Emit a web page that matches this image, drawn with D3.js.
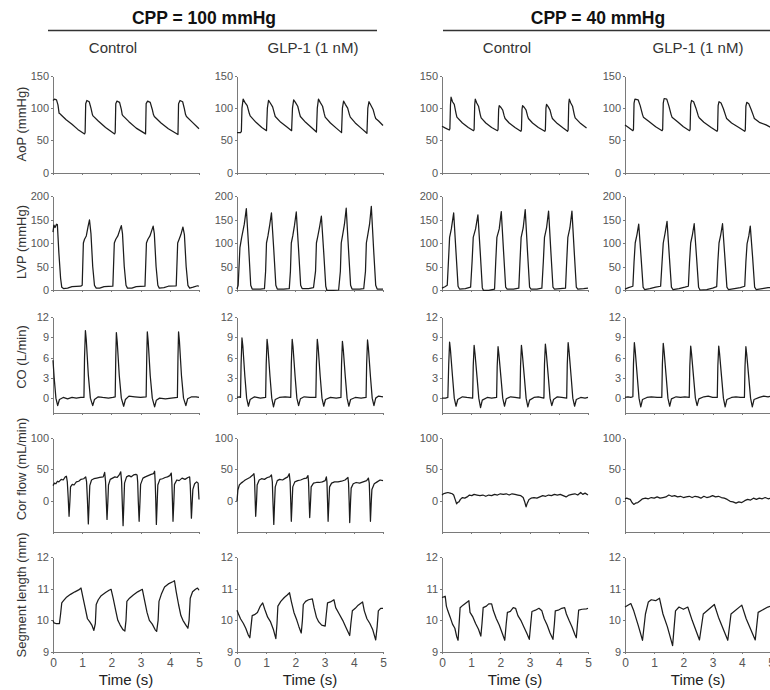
<!DOCTYPE html>
<html>
<head>
<meta charset="utf-8">
<script src="https://cdn.jsdelivr.net/npm/d3@7"></script>
<style>
    body { margin: 0; background: #fff; }
    svg { display: block; font-family: Arial, "Liberation Sans", sans-serif; }
    .axis path, .axis line { stroke: #7a7a7a; shape-rendering: crispEdges; }
    .axis text { fill: #555; font-size: 11px; font-family: Arial, "Liberation Sans", sans-serif; }
    .x-axis text { font-size: 12px; }
    .trace { fill: none; stroke: #1c1c1c; stroke-width: 1.25; stroke-linejoin: round; }
    .row-label { font-size: 13px; fill: #333; }
    .group-title { font-size: 17.5px; font-weight: bold; fill: #111; }
    .col-title { font-size: 15px; fill: #333; }
    .time-label { font-size: 15px; fill: #222; }
</style>
</head>
<body>
<svg id="chart" width="770" height="690"></svg>
<script>
/**
 * Data: time (s), value pairs.
 */
const groupTitles = ['CPP = 100 mmHg', 'CPP = 40 mmHg'];
const colTitles = ['Control', 'GLP-1 (1 nM)', 'Control', 'GLP-1 (1 nM)'];
const rowLabels = ['AoP (mmHg)', 'LVP (mmHg)', 'CO (L/min)', 'Cor flow (mL/min)', 'Segment length (mm)'];
const rowDomains = [[0, 150], [0, 200], [-2.2, 12], [-50, 100], [9, 12]];
const rowTicks = [[0, 50, 100, 150], [0, 50, 100, 150, 200], [0, 3, 6, 9, 12], [0, 50, 100], [9, 10, 11, 12]];
const timeTicks = [0, 1, 2, 3, 4, 5];
const timeLabel = 'Time (s)';

// Aortic pressure
const aop100Ctrl = [[0, 112], [0.05, 114], [0.12, 113], [0.17, 105], [0.21, 92], [0.25, 91], [0.29, 89], [0.45, 82], [0.65, 75], [0.85, 67], [1.08, 60],
    [1.1, 62], [1.12, 107], [1.16, 112], [1.24, 110], [1.3, 100], [1.35, 90], [1.37, 88], [1.55, 80], [1.8, 70], [2.11, 60],
    [2.13, 62], [2.15, 107], [2.19, 111], [2.28, 109], [2.34, 98], [2.37, 90], [2.4, 88], [2.6, 79], [2.85, 69], [3.17, 60],
    [3.19, 107], [3.24, 111], [3.33, 109], [3.4, 98], [3.44, 90], [3.47, 87], [3.7, 77], [3.95, 68], [4.28, 59],
    [4.3, 107], [4.35, 112], [4.44, 110], [4.5, 99], [4.54, 90], [4.57, 87], [4.75, 79], [5.0, 68]];
const aop100Glp = [[0, 62], [0.12, 62], [0.15, 64], [0.17, 100], [0.21, 114], [0.27, 109], [0.35, 104], [0.42, 92], [0.45, 88], [0.65, 78], [0.85, 70], [1.01, 65],
    [1.04, 100], [1.08, 112], [1.14, 108], [1.22, 102], [1.28, 92], [1.31, 87], [1.5, 78], [1.7, 71], [1.87, 65],
    [1.9, 100], [1.94, 113], [2.0, 109], [2.08, 103], [2.14, 92], [2.17, 87], [2.35, 78], [2.55, 70], [2.72, 63],
    [2.75, 100], [2.79, 114], [2.85, 109], [2.93, 103], [2.99, 91], [3.02, 86], [3.2, 77], [3.4, 69], [3.58, 62],
    [3.61, 100], [3.65, 111], [3.71, 106], [3.79, 100], [3.85, 90], [3.88, 86], [4.05, 77], [4.25, 69], [4.45, 61],
    [4.48, 100], [4.52, 110], [4.58, 105], [4.66, 98], [4.72, 88], [4.75, 84], [4.85, 80], [5.0, 73]];
const aop40Ctrl = [[0, 72], [0.12, 69], [0.25, 66], [0.27, 68], [0.29, 105], [0.31, 117], [0.36, 110], [0.42, 106], [0.48, 92], [0.51, 86], [0.7, 77], [0.9, 70], [1.08, 65],
    [1.1, 67], [1.12, 105], [1.14, 114], [1.19, 108], [1.25, 103], [1.31, 90], [1.34, 85], [1.5, 77], [1.7, 70], [1.9, 65],
    [1.92, 67], [1.94, 98], [1.96, 104], [2.02, 101], [2.08, 97], [2.13, 88], [2.16, 84], [2.3, 77], [2.5, 70], [2.7, 64],
    [2.72, 66], [2.74, 98], [2.76, 104], [2.82, 101], [2.88, 97], [2.93, 88], [2.96, 84], [3.1, 77], [3.3, 70], [3.52, 64],
    [3.54, 66], [3.56, 100], [3.58, 106], [3.64, 102], [3.7, 97], [3.75, 88], [3.78, 84], [3.95, 76], [4.15, 69], [4.3, 64],
    [4.32, 66], [4.34, 106], [4.36, 114], [4.41, 108], [4.47, 103], [4.53, 90], [4.56, 85], [4.75, 76], [4.95, 69]];
const aop40Glp = [[0, 74], [0.12, 70], [0.27, 65], [0.29, 67], [0.31, 108], [0.34, 114], [0.45, 113], [0.52, 104], [0.6, 90], [0.63, 86], [0.8, 80], [1.05, 71], [1.27, 65],
    [1.29, 67], [1.31, 108], [1.34, 115], [1.43, 114], [1.5, 104], [1.58, 90], [1.61, 86], [1.8, 79], [2.0, 71], [2.21, 65],
    [2.23, 67], [2.25, 106], [2.28, 112], [2.35, 110], [2.43, 100], [2.51, 88], [2.54, 85], [2.7, 78], [2.95, 70], [3.15, 64],
    [3.17, 66], [3.19, 104], [3.22, 110], [3.29, 108], [3.37, 99], [3.45, 88], [3.48, 84], [3.65, 77], [3.9, 70], [4.1, 64],
    [4.12, 66], [4.14, 103], [4.17, 109], [4.24, 107], [4.32, 98], [4.4, 88], [4.43, 84], [4.6, 78], [4.83, 74], [5.0, 70]];

// Left ventricular pressure
const lvp100Ctrl = [[0, 123], [0.03, 138], [0.07, 133], [0.12, 140], [0.15, 139], [0.2, 80], [0.26, 25], [0.3, 6], [0.36, 3], [0.5, 4], [0.65, 7], [0.95, 8],
    [1.0, 10], [1.04, 100], [1.08, 108], [1.14, 115], [1.2, 135], [1.25, 149], [1.3, 120], [1.36, 50], [1.42, 10], [1.48, 4], [1.6, 4], [1.75, 7], [2.05, 8],
    [2.1, 100], [2.15, 108], [2.22, 115], [2.3, 130], [2.34, 137], [2.38, 120], [2.44, 50], [2.5, 10], [2.55, 4], [2.7, 4], [2.85, 7], [3.15, 8],
    [3.2, 100], [3.25, 108], [3.32, 115], [3.4, 130], [3.43, 136], [3.47, 120], [3.53, 50], [3.59, 10], [3.64, 4], [3.8, 5], [3.95, 8], [4.22, 9],
    [4.27, 100], [4.32, 108], [4.38, 118], [4.45, 134], [4.5, 118], [4.56, 50], [4.62, 10], [4.68, 4], [4.8, 6], [4.95, 9], [5.0, 8]];
const lvp100Glp = [[0, 2], [0.04, 10], [0.1, 90], [0.16, 112], [0.25, 140], [0.32, 173], [0.4, 90], [0.47, 10], [0.52, 2], [0.8, 2], [0.94, 3],
    [0.98, 40], [1.01, 100], [1.06, 115], [1.12, 138], [1.18, 164], [1.26, 85], [1.33, 10], [1.38, 2], [1.6, 2], [1.79, 3],
    [1.83, 40], [1.86, 100], [1.91, 115], [1.97, 138], [2.03, 166], [2.11, 85], [2.18, 10], [2.23, 3], [2.45, 3], [2.62, 5],
    [2.69, 40], [2.72, 100], [2.77, 115], [2.83, 135], [2.89, 157], [2.97, 80], [3.04, 8], [3.08, -1], [3.3, -1], [3.48, 0],
    [3.54, 40], [3.57, 100], [3.62, 118], [3.68, 140], [3.74, 174], [3.82, 85], [3.89, 10], [3.94, 2], [4.2, 2], [4.34, 3],
    [4.4, 40], [4.43, 100], [4.48, 118], [4.54, 140], [4.6, 178], [4.68, 85], [4.75, 10], [4.8, 2], [5.0, 2]];
const lvp40Ctrl = [[0, 4], [0.1, 7], [0.18, 10], [0.22, 60], [0.26, 112], [0.32, 130], [0.4, 164], [0.48, 80], [0.55, 8], [0.6, 2], [0.8, 3], [0.98, 6],
    [1.03, 60], [1.07, 112], [1.15, 130], [1.23, 160], [1.31, 80], [1.38, 5], [1.42, -1], [1.6, -1], [1.8, 2],
    [1.84, 60], [1.88, 112], [1.96, 130], [2.03, 167], [2.11, 80], [2.18, 6], [2.23, 2], [2.45, 2], [2.63, 4],
    [2.67, 60], [2.71, 112], [2.78, 132], [2.85, 171], [2.93, 80], [3.0, 6], [3.05, 2], [3.25, 2], [3.42, 4],
    [3.47, 60], [3.51, 112], [3.58, 132], [3.65, 168], [3.73, 80], [3.8, 6], [3.85, 2], [4.05, 3], [4.23, 4],
    [4.27, 60], [4.31, 112], [4.38, 132], [4.45, 168], [4.53, 80], [4.6, 6], [4.65, 2], [4.85, 3], [5.0, 4]];
const lvp40Glp = [[0, 2], [0.12, 5], [0.27, 8], [0.31, 60], [0.35, 100], [0.41, 118], [0.47, 140], [0.55, 70], [0.62, 6], [0.67, 1], [0.85, 3], [1.05, 6], [1.22, 8],
    [1.27, 60], [1.31, 100], [1.37, 120], [1.44, 146], [1.52, 70], [1.59, 6], [1.64, 1], [1.85, 3], [2.05, 6], [2.17, 8],
    [2.21, 60], [2.25, 100], [2.31, 118], [2.37, 141], [2.45, 70], [2.52, 6], [2.57, 0], [2.8, 1], [3.0, 4], [3.14, 7],
    [3.18, 60], [3.22, 100], [3.28, 118], [3.34, 141], [3.42, 70], [3.49, 6], [3.54, 1], [3.75, 3], [3.95, 5], [4.1, 8],
    [4.14, 60], [4.18, 98], [4.24, 115], [4.29, 136], [4.37, 70], [4.44, 6], [4.49, 1], [4.7, 3], [4.9, 5], [5.0, 5]];

// Cardiac output
const co100Ctrl = [[0, 5.6], [0.04, 3], [0.1, 0], [0.16, -1.1], [0.22, -0.2], [0.35, 0.1], [0.5, -0.1], [0.65, 0.1], [0.8, 0], [0.95, 0.1], [1.06, 0.1],
    [1.08, 6], [1.11, 10], [1.14, 8.6], [1.21, 3.4], [1.28, 0], [1.36, -1.1], [1.42, -0.2], [1.55, 0.2], [1.7, 0.1], [1.9, 0], [2.05, 0.1], [2.13, 0.2],
    [2.15, 6], [2.17, 9.7], [2.2, 8.3], [2.27, 3.3], [2.34, 0], [2.42, -1.2], [2.48, -0.2], [2.6, 0.3], [2.8, 0.2], [3.0, 0.1], [3.19, 0.2],
    [3.21, 6], [3.23, 9.8], [3.26, 8.4], [3.33, 3.3], [3.4, 0], [3.48, -1.3], [3.54, -0.3], [3.65, 0], [3.85, -0.1], [4.05, 0], [4.26, 0.1],
    [4.28, 6], [4.3, 9.8], [4.33, 8.4], [4.4, 3.3], [4.47, 0], [4.55, -1.1], [4.61, -0.1], [4.75, 0.2], [4.9, 0.2], [5.0, 0.1]];
const co100Glp = [[0, 0.1], [0.08, 0.2], [0.12, 0.1], [0.14, 5], [0.17, 8.9], [0.2, 7.7], [0.27, 3.2], [0.33, 0], [0.39, -1.2], [0.45, -0.2], [0.6, 0.2], [0.8, 0], [0.98, 0.1],
    [1.0, 5], [1.03, 8.7], [1.06, 7.5], [1.13, 3.2], [1.19, 0], [1.25, -1.3], [1.31, -0.2], [1.45, 0.1], [1.65, 0.2], [1.84, 0.1],
    [1.86, 5], [1.89, 8.7], [1.92, 7.5], [1.99, 3.2], [2.05, 0], [2.11, -1.1], [2.17, -0.1], [2.3, 0.2], [2.5, 0.1], [2.7, 0.1],
    [2.72, 5], [2.75, 8.7], [2.78, 7.5], [2.85, 3.2], [2.91, 0], [2.97, -1.2], [3.03, -0.2], [3.2, 0.1], [3.4, 0], [3.56, 0.1],
    [3.58, 5], [3.61, 8.4], [3.64, 7.2], [3.71, 3.1], [3.77, 0], [3.83, -1.2], [3.89, -0.2], [4.05, 0.1], [4.25, 0], [4.42, 0.1],
    [4.44, 5], [4.47, 8.6], [4.5, 7.4], [4.57, 3.2], [4.63, 0], [4.69, -1.1], [4.75, 0], [4.85, 0.3], [5.0, 0.2]];
const co40Ctrl = [[0, 0], [0.12, 0], [0.2, 0.1], [0.23, 5], [0.26, 8.3], [0.29, 7.1], [0.36, 3.2], [0.42, 0], [0.48, -1.2], [0.54, -0.2], [0.7, 0.2], [0.85, 0.1], [1.05, 0],
    [1.07, 4.8], [1.1, 7.8], [1.13, 6.6], [1.2, 3.1], [1.26, 0], [1.32, -1.4], [1.38, -0.3], [1.55, 0.1], [1.7, 0], [1.87, 0.1],
    [1.89, 4.7], [1.92, 7.6], [1.95, 6.4], [2.02, 3], [2.08, 0], [2.14, -1.2], [2.2, -0.1], [2.35, 0.2], [2.5, 0.1], [2.67, 0],
    [2.69, 4.8], [2.72, 7.8], [2.75, 6.6], [2.82, 3.1], [2.88, 0], [2.94, -1.3], [3.0, -0.3], [3.15, 0.1], [3.3, 0.2], [3.49, 0],
    [3.51, 5], [3.54, 8.0], [3.57, 6.8], [3.64, 3.2], [3.7, 0], [3.76, -1.1], [3.82, -0.2], [3.95, 0.2], [4.1, 0.1], [4.27, 0],
    [4.29, 5], [4.32, 8.2], [4.35, 7], [4.42, 3.3], [4.48, 0], [4.54, -1.2], [4.6, -0.2], [4.75, 0.1], [4.9, 0], [5.0, 0.1]];
const co40Glp = [[0, 0.1], [0.1, 0.2], [0.2, 0.1], [0.27, 0.2], [0.29, 5], [0.32, 8.2], [0.35, 7], [0.42, 3.2], [0.48, 0], [0.54, -1.3], [0.6, -0.2], [0.75, 0.1], [0.9, 0.2], [1.1, 0.1], [1.26, 0.1],
    [1.28, 5], [1.31, 8.1], [1.34, 6.9], [1.41, 3.2], [1.47, 0], [1.53, -1.2], [1.59, -0.1], [1.75, 0.2], [1.9, 0.1], [2.05, 0.2], [2.2, 0.1],
    [2.22, 4.8], [2.25, 7.7], [2.28, 6.5], [2.35, 3], [2.41, 0], [2.47, -1.1], [2.53, -0.1], [2.7, 0.2], [2.85, 0.3], [3.0, 0.1], [3.16, 0.1],
    [3.18, 4.8], [3.21, 7.7], [3.24, 6.5], [3.31, 3], [3.37, 0], [3.43, -1.3], [3.49, -0.2], [3.65, 0.1], [3.8, 0.2], [3.95, 0.1], [4.09, 0.1],
    [4.11, 4.7], [4.14, 7.6], [4.17, 6.4], [4.24, 3], [4.3, 0], [4.36, -1.3], [4.42, -0.2], [4.6, 0.1], [4.75, 0.3], [4.9, 0.2], [5.0, 0.3]];

// Coronary flow
const cor100Ctrl = [[0, 24], [0.05, 28], [0.1, 27], [0.15, 31], [0.2, 30], [0.28, 34], [0.35, 33], [0.42, 38], [0.46, 39], [0.49, 30], [0.52, 5], [0.55, -25], [0.58, 0], [0.6, 22],
    [0.66, 26], [0.72, 25], [0.8, 30], [0.88, 31], [0.96, 34], [1.05, 35], [1.12, 38], [1.15, 30], [1.18, 0], [1.21, -37], [1.24, 0], [1.26, 24],
    [1.32, 33], [1.4, 35], [1.5, 36], [1.6, 37], [1.72, 38], [1.77, 45], [1.8, 30], [1.82, 5], [1.85, -30], [1.88, 0], [1.9, 25],
    [1.96, 34], [2.04, 36], [2.12, 38], [2.2, 37], [2.28, 42], [2.32, 46], [2.35, 30], [2.37, 0], [2.4, -40], [2.43, 0], [2.45, 28],
    [2.52, 38], [2.6, 40], [2.68, 38], [2.76, 41], [2.84, 42], [2.88, 41], [2.9, 30], [2.92, 0], [2.95, -33], [2.98, 0], [3.0, 26],
    [3.08, 36], [3.16, 38], [3.26, 40], [3.36, 42], [3.44, 43], [3.48, 47], [3.5, 30], [3.52, 0], [3.54, -38], [3.57, 0], [3.59, 25],
    [3.66, 34], [3.75, 35], [3.84, 37], [3.92, 38], [4.0, 40], [4.05, 44], [4.07, 30], [4.09, 0], [4.11, -33], [4.14, 0], [4.16, 26],
    [4.24, 33], [4.32, 32], [4.42, 36], [4.52, 34], [4.62, 37], [4.68, 38], [4.7, 25], [4.72, 0], [4.74, -28], [4.77, 0], [4.79, 18],
    [4.85, 27], [4.92, 30], [4.97, 28], [5.0, 2]];
const cor100Glp = [[0, -1], [0.03, 17], [0.08, 25], [0.14, 28], [0.2, 30], [0.28, 33], [0.36, 35], [0.44, 37], [0.52, 40], [0.58, 43], [0.6, 35], [0.62, 5], [0.64, -25], [0.67, 0], [0.69, 25],
    [0.76, 33], [0.84, 35], [0.94, 34], [1.04, 37], [1.12, 38], [1.18, 41], [1.21, 30], [1.23, 0], [1.26, -38], [1.29, 0], [1.31, 22],
    [1.38, 32], [1.46, 34], [1.56, 33], [1.66, 36], [1.74, 38], [1.79, 43], [1.82, 30], [1.84, 0], [1.86, -33], [1.89, 0], [1.91, 22],
    [1.98, 30], [2.08, 32], [2.18, 33], [2.28, 35], [2.38, 36], [2.43, 40], [2.45, 30], [2.47, 0], [2.49, -27], [2.52, 0], [2.54, 22],
    [2.62, 28], [2.72, 29], [2.82, 29], [2.92, 30], [3.02, 32], [3.06, 38], [3.08, 30], [3.1, 0], [3.12, -33], [3.15, 0], [3.17, 22],
    [3.24, 28], [3.34, 30], [3.46, 30], [3.58, 31], [3.7, 33], [3.8, 37], [3.82, 28], [3.84, 0], [3.86, -35], [3.89, 0], [3.91, 20],
    [3.98, 27], [4.08, 29], [4.2, 28], [4.32, 30], [4.44, 32], [4.5, 36], [4.53, 28], [4.55, 0], [4.57, -33], [4.6, 0], [4.62, 18],
    [4.7, 27], [4.8, 30], [4.9, 33], [5.0, 32]];
const cor40Ctrl = [[0, 9], [0.05, 11], [0.12, 12], [0.2, 13], [0.28, 12], [0.35, 11], [0.4, 9], [0.45, 2], [0.5, -5], [0.53, -3], [0.58, -2], [0.63, 2],
    [0.7, 5], [0.78, 4], [0.86, 6], [0.94, 9], [1.02, 8], [1.1, 10], [1.2, 9], [1.3, 8], [1.4, 9], [1.5, 7], [1.6, 9], [1.7, 8], [1.8, 10],
    [1.9, 9], [2.0, 11], [2.1, 10], [2.2, 11], [2.3, 9], [2.4, 11], [2.5, 10], [2.6, 9], [2.7, 8], [2.78, 5], [2.84, -3], [2.88, -10], [2.92, -4],
    [2.98, 2], [3.05, 4], [3.15, 5], [3.25, 4], [3.35, 6], [3.45, 8], [3.55, 7], [3.65, 9], [3.75, 8], [3.85, 10], [3.95, 9], [4.05, 10],
    [4.15, 8], [4.25, 6], [4.35, 9], [4.45, 10], [4.55, 11], [4.65, 9], [4.75, 13], [4.82, 10], [4.9, 12], [5.0, 9]];
const cor40Glp = [[0, 3], [0.06, 4], [0.12, 3], [0.18, 2], [0.24, -3], [0.3, -6], [0.36, -4], [0.44, -3], [0.52, 0], [0.6, 3], [0.7, 4], [0.8, 3],
    [0.9, 5], [1.0, 4], [1.1, 6], [1.2, 4], [1.3, 5], [1.4, 6], [1.5, 9], [1.6, 7], [1.7, 8], [1.8, 6], [1.9, 7], [2.0, 5], [2.1, 6], [2.2, 7],
    [2.3, 5], [2.4, 7], [2.5, 6], [2.6, 4], [2.7, 7], [2.8, 5], [2.9, 6], [3.0, 8], [3.1, 6], [3.2, 7], [3.3, 5], [3.4, 4], [3.5, 2], [3.6, -1],
    [3.7, -2], [3.8, -4], [3.9, -2], [4.0, -3], [4.1, 0], [4.2, 2], [4.3, 1], [4.4, 4], [4.5, 2], [4.6, 4], [4.7, 3], [4.8, 5], [4.9, 3], [5.0, 4]];

// Segment length
const sl100Ctrl = [[0, 10.0], [0.03, 9.92], [0.1, 9.9], [0.22, 9.9], [0.26, 10.2], [0.3, 10.55], [0.36, 10.62], [0.45, 10.72], [0.6, 10.82], [0.75, 10.9], [0.88, 10.96], [0.96, 11.02],
    [1.02, 10.75], [1.1, 10.4], [1.18, 10.05], [1.26, 9.95], [1.33, 9.85], [1.4, 9.68], [1.45, 9.9], [1.48, 10.5], [1.55, 10.65], [1.65, 10.78], [1.8, 10.88], [1.92, 10.95], [1.99, 10.98],
    [2.06, 10.7], [2.15, 10.3], [2.22, 10.0], [2.3, 9.85], [2.4, 9.7], [2.46, 9.66], [2.5, 10.0], [2.53, 10.6], [2.62, 10.7], [2.75, 10.8], [2.9, 10.9], [3.06, 10.98],
    [3.12, 10.7], [3.22, 10.25], [3.3, 10.0], [3.4, 9.88], [3.5, 9.7], [3.55, 9.65], [3.6, 10.0], [3.63, 10.6], [3.72, 10.85], [3.82, 11.05], [3.95, 11.15], [4.1, 11.22], [4.16, 11.25],
    [4.22, 10.9], [4.3, 10.5], [4.38, 10.15], [4.45, 10.0], [4.55, 9.85], [4.62, 9.75], [4.66, 10.0], [4.7, 10.7], [4.78, 10.9], [4.88, 10.98], [4.95, 11.02], [5.0, 10.95]];
const sl100Glp = [[0, 10.32], [0.05, 10.2], [0.12, 10.05], [0.22, 9.9], [0.3, 9.75], [0.38, 9.55], [0.44, 9.45], [0.48, 9.8], [0.52, 10.15], [0.6, 10.18], [0.7, 10.25], [0.8, 10.45], [0.88, 10.55],
    [0.95, 10.35], [1.05, 10.1], [1.15, 9.95], [1.25, 9.7], [1.33, 9.42], [1.37, 9.9], [1.4, 10.45], [1.5, 10.6], [1.62, 10.72], [1.72, 10.8], [1.8, 10.87],
    [1.86, 10.6], [1.95, 10.25], [2.05, 10.0], [2.12, 9.8], [2.2, 9.6], [2.24, 10.0], [2.27, 10.5], [2.35, 10.6], [2.45, 10.65], [2.58, 10.68],
    [2.64, 10.4], [2.72, 10.1], [2.8, 9.95], [2.9, 9.85], [3.02, 9.82], [3.06, 10.2], [3.1, 10.55], [3.2, 10.58], [3.32, 10.65],
    [3.38, 10.4], [3.5, 10.2], [3.62, 10.0], [3.72, 9.8], [3.82, 9.6], [3.86, 9.52], [3.9, 9.9], [3.95, 10.3], [4.05, 10.38], [4.15, 10.48], [4.3, 10.58],
    [4.36, 10.3], [4.45, 10.05], [4.55, 9.9], [4.65, 9.7], [4.75, 9.38], [4.8, 9.8], [4.84, 10.3], [4.92, 10.38], [5.0, 10.38]];
const sl40Ctrl = [[0, 10.72], [0.06, 10.74], [0.11, 10.76], [0.15, 10.45], [0.2, 10.3], [0.28, 10.1], [0.36, 9.88], [0.44, 9.75], [0.5, 9.5], [0.55, 9.37],
    [0.58, 9.8], [0.62, 10.4], [0.72, 10.48], [0.82, 10.55], [0.92, 10.62], [0.96, 10.25], [1.06, 10.1], [1.15, 9.9], [1.25, 9.72], [1.33, 9.5],
    [1.37, 9.9], [1.41, 10.4], [1.52, 10.45], [1.6, 10.52], [1.7, 10.52], [1.76, 10.3], [1.86, 10.05], [1.96, 9.85], [2.06, 9.6], [2.15, 9.37],
    [2.2, 9.9], [2.24, 10.25], [2.34, 10.28], [2.44, 10.4], [2.52, 10.38], [2.6, 10.15], [2.7, 10.0], [2.8, 9.8], [2.9, 9.6], [2.99, 9.4],
    [3.04, 9.9], [3.08, 10.28], [3.2, 10.32], [3.32, 10.38], [3.42, 10.3], [3.5, 10.05], [3.6, 9.85], [3.7, 9.6], [3.8, 9.4],
    [3.85, 9.9], [3.88, 10.3], [3.98, 10.32], [4.1, 10.38], [4.2, 10.4], [4.26, 10.2], [4.35, 10.0], [4.45, 9.8], [4.55, 9.55], [4.6, 9.45],
    [4.64, 9.9], [4.68, 10.32], [4.8, 10.35], [4.95, 10.36], [5.0, 10.38]];
const sl40Glp = [[0, 10.42], [0.2, 10.53], [0.3, 10.3], [0.45, 9.85], [0.6, 9.37], [0.7, 10.2], [0.8, 10.58], [0.9, 10.65], [1.05, 10.62], [1.18, 10.7],
    [1.3, 10.2], [1.45, 9.8], [1.63, 9.2], [1.73, 10.3], [1.85, 10.42], [2.0, 10.35], [2.15, 10.42], [2.3, 10.0], [2.55, 9.38],
    [2.68, 10.2], [3.06, 10.5], [3.2, 10.1], [3.52, 9.37], [3.63, 10.2], [4.0, 10.48], [4.15, 10.05], [4.46, 9.38], [4.56, 10.25], [4.89, 10.42], [5.0, 10.45]];

const traces = [
    [aop100Ctrl, aop100Glp, aop40Ctrl, aop40Glp],
    [lvp100Ctrl, lvp100Glp, lvp40Ctrl, lvp40Glp],
    [co100Ctrl, co100Glp, co40Ctrl, co40Glp],
    [cor100Ctrl, cor100Glp, cor40Ctrl, cor40Glp],
    [sl100Ctrl, sl100Glp, sl40Ctrl, sl40Glp]
];

/**
 * Layout configs.
 */
const colLeft = [53, 237, 442, 625],
    panelWidth = 146,
    rowTop = [76, 196, 317, 438, 557],
    rowBottom = [172.5, 290, 413, 532, 652],
    rowLabelY = [124, 242, 357, 469, 595],
    colTitleX = [113, 313, 507, 698],
    groupTitleX = [204, 598],
    groupLine = [[48, 377], [443, 772]];

const svg = d3.select('#chart');

// Group headers
groupTitles.forEach((t, i) => {
    svg.append('text').attr('class', 'group-title')
        .attr('x', groupTitleX[i]).attr('y', 24)
        .attr('text-anchor', 'middle').text(t);
    svg.append('line')
        .attr('x1', groupLine[i][0]).attr('x2', groupLine[i][1])
        .attr('y1', 30.5).attr('y2', 30.5)
        .attr('stroke', '#333').attr('stroke-width', 1.3);
});

colTitles.forEach((t, i) => {
    svg.append('text').attr('class', 'col-title')
        .attr('x', colTitleX[i]).attr('y', 53)
        .attr('text-anchor', 'middle').text(t);
});

// Panels
rowLabels.forEach((label, r) => {
    const yScale = d3.scaleLinear().domain(rowDomains[r]).range([rowBottom[r], rowTop[r]]);

    svg.append('text').attr('class', 'row-label')
        .attr('transform', 'translate(26,' + rowLabelY[r] + ') rotate(-90)')
        .attr('text-anchor', 'middle').text(label);

    colLeft.forEach((x0, c) => {
        const xScale = d3.scaleLinear().domain([0, 5]).range([x0, x0 + panelWidth]);
        const g = svg.append('g').attr('class', 'panel');

        const yAxis = d3.axisLeft(yScale).tickValues(rowTicks[r]).tickFormat(d3.format('d'))
            .tickSizeInner(2).tickSizeOuter(0).tickPadding(2);
        g.append('g').attr('class', 'axis y-axis')
            .attr('transform', 'translate(' + x0 + ',0)')
            .call(yAxis);

        const xAxis = d3.axisBottom(xScale).tickValues(timeTicks).tickFormat(d3.format('d'))
            .tickSizeInner(2).tickSizeOuter(0).tickPadding(4);
        if (r < rowLabels.length - 1) xAxis.tickFormat('');
        g.append('g').attr('class', 'axis x-axis')
            .attr('transform', 'translate(0,' + rowBottom[r] + ')')
            .call(xAxis);

        const line = d3.line().x(d => xScale(d[0])).y(d => yScale(d[1]));
        g.append('path').attr('class', 'trace').attr('d', line(traces[r][c]));

        if (r === rowLabels.length - 1) {
            g.append('text').attr('class', 'time-label')
                .attr('x', x0 + panelWidth / 2).attr('y', 685)
                .attr('text-anchor', 'middle').text(timeLabel);
        }
    });
});
</script>
</body>
</html>
